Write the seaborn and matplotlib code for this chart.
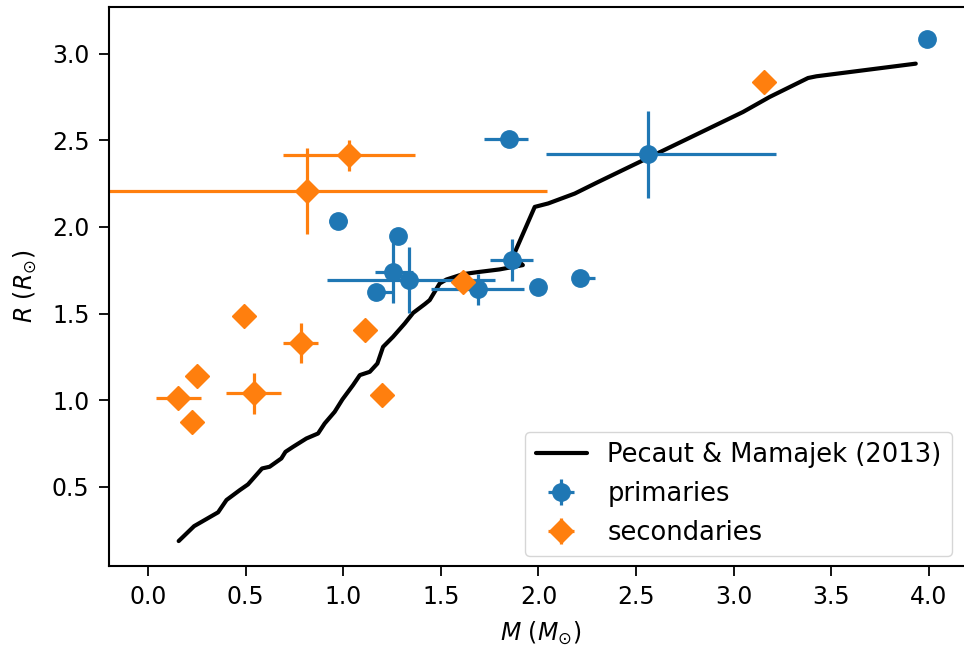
import matplotlib
matplotlib.use("Agg")
import matplotlib.pyplot as plt
import seaborn as sns
import numpy as np
import pandas as pd

# Pecaut & Mamajek (2013) relation
line_mass = [0.157, 0.236, 0.359, 0.402, 0.47, 0.512, 0.584, 0.623, 0.683, 0.704,
             0.743, 0.811, 0.871, 0.905, 0.956, 0.996, 1.05, 1.085, 1.136, 1.175,
             1.204, 1.255, 1.315, 1.358, 1.418, 1.443, 1.494, 1.529, 1.614, 1.699,
             1.80, 1.92, 1.87, 1.981, 2.05, 2.186, 2.297, 3.048, 3.185, 3.381,
             3.424, 3.933]
line_radius = [0.187, 0.273, 0.353, 0.424, 0.481, 0.514, 0.606, 0.616, 0.664, 0.702,
               0.731, 0.779, 0.808, 0.866, 0.933, 1.005, 1.087, 1.145, 1.164, 1.212,
               1.308, 1.366, 1.443, 1.504, 1.555, 1.578, 1.674, 1.697, 1.728, 1.741,
               1.755, 1.78, 1.83, 2.116, 2.136, 2.193, 2.255, 2.664, 2.751, 2.86,
               2.87, 2.943]

# primaries
prim_mass = [3.99, 1.848, 2.561, 0.973, 1.281, 1.256, 1.335, 1.167, 1.688, 1.862, 1.998, 2.212]
prim_radius = [3.084, 2.507, 2.42, 2.035, 1.947, 1.741, 1.693, 1.624, 1.64, 1.808, 1.651, 1.706]
prim_mass_err_lo = [0, 0.125, 0.52, 0.045, 0, 0.095, 0.42, 0.03, 0.24, 0.11, 0, 0.03]
prim_mass_err_hi = [0, 0.10, 0.655, 0.045, 0, 0.10, 0.44, 0.09, 0.24, 0.11, 0, 0.077]
prim_radius_err = [0, 0, 0.25, 0, 0, 0.18, 0.19, 0, 0.09, 0.12, 0, 0]

# secondaries
sec_mass = [3.155, 1.03, 0.815, 0.49, 0.782, 1.114, 0.253, 0.541, 0.156, 0.227, 1.2, 1.614]
sec_radius = [2.837, 2.414, 2.207, 1.485, 1.328, 1.403, 1.141, 1.039, 1.01, 0.875, 1.033, 1.68]
sec_mass_err = [0, 0.34, 1.23, 0, 0.09, 0, 0, 0.14, 0.115, 0, 0, 0]
sec_radius_err = [0, 0.088, 0.25, 0, 0.115, 0, 0, 0.12, 0, 0, 0, 0]

sns.set_style("ticks")
plt.rcParams['font.family'] = ['DejaVu Sans']
plt.rcParams['text.color'] = 'black'
plt.rcParams['axes.labelcolor'] = 'black'
plt.rcParams['xtick.color'] = 'black'
plt.rcParams['ytick.color'] = 'black'

W, H = 964, 652
ax_left, ax_bottom, ax_w, ax_h = 109, 86, 864, 559
fig = plt.figure(figsize=(W / 100, H / 100), dpi=100)
ax = fig.add_axes([ax_left / W, ax_bottom / H, ax_w / W, ax_h / H])

line_df = pd.DataFrame({"M": line_mass, "R": line_radius})
sns.lineplot(data=line_df, x="M", y="R", sort=False, estimator=None, color="black",
             lw=3, ax=ax, label="Pecaut & Mamajek (2013)")

blue = "#1f77b4"
orange = "#ff7f0e"
ax.errorbar(prim_mass, prim_radius,
            xerr=[prim_mass_err_lo, prim_mass_err_hi], yerr=prim_radius_err,
            fmt="o", color=blue, ms=12.5, elinewidth=2.3, capsize=0,
            label="primaries")
ax.errorbar(sec_mass, sec_radius, xerr=sec_mass_err, yerr=sec_radius_err,
            fmt="D", color=orange, ms=12, elinewidth=2.3, capsize=0,
            label="secondaries")

# x range so that -0.2 sits at the left spine and 195.2 px per unit
x_right = -0.2 + ax_w / 195.2
ax.set_xlim(-0.2, x_right)
ax.set_ylim(0.043, 3.27)
ax.set_xticks(np.arange(0, 4.01, 0.5))
ax.set_yticks(np.arange(0.5, 3.01, 0.5))
ax.set_xlabel(r"$M$ ($M_{\odot}$)", fontsize=17, labelpad=7)
ax.set_ylabel(r"$R$ ($R_{\odot}$)", fontsize=17, labelpad=9)
ax.tick_params(labelsize=17, length=7, width=1.3, pad=7, color="black")
for s in ax.spines.values():
    s.set_linewidth(1.5)
    s.set_color("black")

anchor_x = (952 - ax_left) / ax_w
anchor_y = (566 - 556) / ax_h
ax.legend(loc="lower right", fontsize=18.5, bbox_to_anchor=(anchor_x, anchor_y),
          borderaxespad=0)

fig.savefig("out.png", dpi=100)
